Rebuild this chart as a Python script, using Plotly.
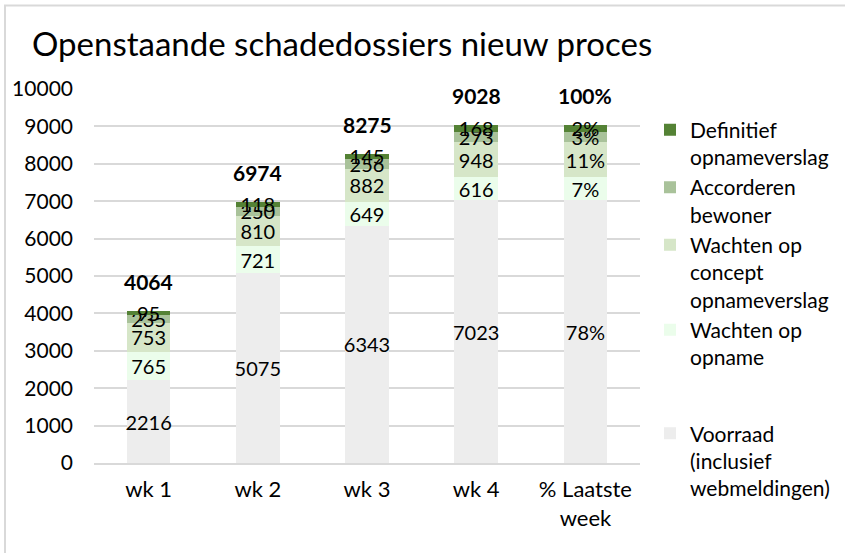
import plotly.graph_objects as go

categories = ["wk 1", "wk 2", "wk 3", "wk 4", "% Laatste<br>week"]

series_names = [
    "Voorraad<br>(inclusief<br>webmeldingen)",
    "Wachten op<br>opname",
    "Wachten op<br>concept<br>opnameverslag",
    "Accorderen<br>bewoner",
    "Definitief<br>opnameverslag",
]
legend_groups = ["b", "a", "a", "a", "a"]
legend_ranks = [5, 4, 3, 2, 1]

voorraad = [2216, 5075, 6343, 7023, 7023]
wachten_opname = [765, 721, 649, 616, 616]
wachten_concept = [753, 810, 882, 948, 948]
accorderen = [235, 250, 256, 273, 273]
definitief = [95, 118, 145, 168, 168]

voorraad_labels = ["2216", "5075", "6343", "7023", "78%"]
wachten_opname_labels = ["765", "721", "649", "616", "7%"]
wachten_concept_labels = ["753", "810", "882", "948", "11%"]
accorderen_labels = ["235", "250", "256", "273", "3%"]
definitief_labels = ["95", "118", "145", "168", "2%"]

total_labels = ["4064", "6974", "8275", "9028", "100%"]

colors = ["#ededed", "#ebfdeb", "#d6e6c8", "#a9c29a", "#548235"]

values = [voorraad, wachten_opname, wachten_concept, accorderen, definitief]
labels = [voorraad_labels, wachten_opname_labels, wachten_concept_labels,
          accorderen_labels, definitief_labels]

FONT = "Lato"

fig = go.Figure()
for name, grp, rank, vals, labs, col in zip(series_names, legend_groups, legend_ranks,
                                            values, labels, colors):
    fig.add_trace(go.Bar(
        x=categories, y=vals, name=name, text=labs, legendgroup=grp,
        legendrank=rank,
        textposition="inside", insidetextanchor="middle",
        textangle=0, constraintext="none",
        textfont=dict(family=FONT, size=20, color="black"),
        marker=dict(color=col, line=dict(width=0)),
        cliponaxis=False,
    ))

totals = [sum(v[i] for v in values) for i in range(len(categories))]
for cat, tot, lab in zip(categories, totals, total_labels):
    fig.add_annotation(x=cat, y=tot, text="<b>%s</b>" % lab, showarrow=False,
                       yanchor="bottom", yshift=15,
                       font=dict(family=FONT, size=21, color="black"))

fig.update_layout(
    barmode="stack",
    bargap=0.6,
    width=845, height=553,
    margin=dict(l=94, r=205, t=89, b=90, autoexpand=False),
    paper_bgcolor="white", plot_bgcolor="white",
    font=dict(family=FONT, size=20, color="black"),
    uniformtext=dict(mode="show", minsize=20),
    title=dict(text="Openstaande schadedossiers nieuw proces",
               x=32 / 845, xanchor="left", xref="container",
               y=1 - 44 / 553, yanchor="middle", yref="container",
               font=dict(family=FONT, size=33, color="black")),
    legend=dict(x=(650 - 94) / 546, xanchor="left", y=(463.5 - 110) / 374, yanchor="top",
                traceorder="grouped", valign="top", maxheight=520,
                font=dict(family=FONT, size=21, color="black"),
                itemwidth=30, tracegroupgap=46),
    xaxis=dict(showgrid=False, showline=True, linecolor="#d9d9d9", linewidth=2,
               ticks="", automargin=False, ticklabelstandoff=6,
               tickfont=dict(family=FONT, size=22)),
    yaxis=dict(range=[0, 10000], dtick=1000, tickformat="d", showgrid=True,
               gridcolor="#d9d9d9", gridwidth=2, zeroline=False, showline=False,
               ticks="", automargin=False, ticklabelstandoff=20,
               tickfont=dict(family=FONT, size=21)),
    shapes=[dict(type="rect", xref="paper", yref="paper",
                 x0=(5 - 94) / 546, x1=(900 - 94) / 546,
                 y0=(463.5 - 600) / 374, y1=(463.5 - 6) / 374,
                 line=dict(color="#d9d9d9", width=2), layer="below")],
)

fig.write_html("out.html", config={"displayModeBar": False},
               post_script="document.body.style.margin='0';")
